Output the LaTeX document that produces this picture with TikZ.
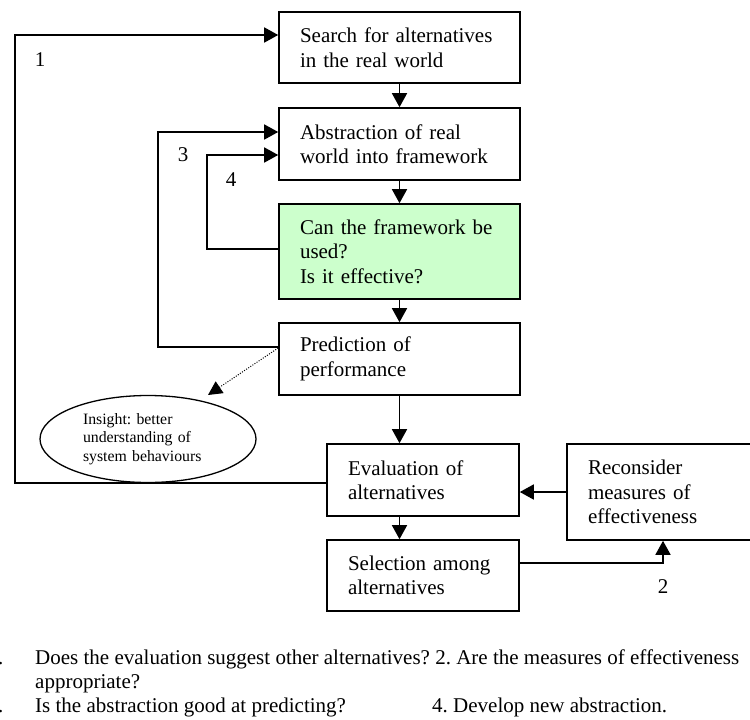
\documentclass[tikz,border=0pt]{standalone}
\usepackage{fontspec}
\setmainfont{Liberation Serif}
\usetikzlibrary{arrows.meta,shapes.geometric,calc}
\definecolor{paleGreen}{RGB}{204,255,204}
\frenchspacing
\begin{document}
\begin{tikzpicture}[x=1pt,y=-1pt,
  every node/.style={font=\fontsize{21}{24.5}\selectfont},
  stepbox/.style={draw,line width=1.6pt,inner xsep=21pt,inner ysep=0pt,align=left},
  flow/.style={line width=1.6pt,-{Triangle[length=14pt,width=15pt]}},
  hint/.style={line width=1pt,dash pattern=on 1pt off 1.5pt,-{Triangle[length=14pt,width=14pt]}},
  num/.style={inner sep=0pt},
]
\useasboundingbox (0,0) rectangle (750,720);

% main chain of steps
\node[stepbox,minimum width=241pt,minimum height=71pt,text width=199pt] (search) at (399.5,47.5)
  {Search for alternatives\\in the real world};
\node[stepbox,minimum width=241pt,minimum height=72pt,text width=199pt] (abstr) at (399.5,144)
  {Abstraction of real\\world into framework};
\node[stepbox,fill=paleGreen,minimum width=241pt,minimum height=95pt,text width=199pt] (frame) at (399.5,251.5)
  {Can the framework be\\used?\\Is it effective?};
\node[stepbox,minimum width=241pt,minimum height=72pt,text width=199pt] (pred) at (399.5,359)
  {Prediction of\\performance};
\node[stepbox,minimum width=192pt,minimum height=72pt,text width=150pt] (eval) at (423,480)
  {Evaluation of\\alternatives};
\node[stepbox,minimum width=192pt,minimum height=71pt,text width=150pt] (sel) at (423,575.5)
  {Selection among\\alternatives};
\node[stepbox,minimum width=185pt,minimum height=96pt,text width=143pt] (recon) at (659.5,492)
  {Reconsider\\measures of\\effectiveness};

% side remark
\node[draw,ellipse,line width=1.3pt,minimum width=216pt,minimum height=87pt,inner sep=0pt,
      text width=130pt,align=left,font=\fontsize{15.8}{18.3}\selectfont] (insight) at (148,439)
  {Insight: better\\understanding of\\system behaviours};
\coordinate (insTip) at (208,395);

% forward flow
\draw[flow] (search.south) -- (abstr.north);
\draw[flow] (abstr.south) -- (frame.north);
\draw[flow] (frame.south) -- (pred.north);
\draw[flow] (pred.south) -- (pred.south |- eval.north);
\draw[flow] (pred.south |- eval.south) -- (pred.south |- sel.north);
\draw[flow] (recon.west) -- (recon.west -| eval.east);
\draw[flow] ([yshift=12.5pt]sel.east) -| ([xshift=3.5pt]recon.south);
\draw[hint] ([yshift=11pt]pred.west) -- (insTip);

% feedback loops
\coordinate (c1) at (15,35);
\coordinate (c3) at (158,132);
\coordinate (c4) at (207,155);
\draw[flow] ([yshift=-3pt]eval.west) -| (c1) -- ([yshift=12.5pt]search.west);
\draw[flow] ([yshift=12pt]pred.west) -| (c3) -- ([yshift=12pt]abstr.west);
\draw[flow] ([yshift=2.5pt]frame.west) -| (c4) -- ([yshift=-11pt]abstr.west);

% loop numbers
\node (n1) at (40,60) {1};
\node (n3) at (183,155) {3};
\node (n4) at (231,180) {4};
\node (n2) at (663,587) {2};

% legend
\node[num,anchor=base east] (k1) at (3.5,664) {1.};
\node[num,anchor=base west] (q1) at (35,664)
  {Does the evaluation suggest other alternatives? 2. Are the measures of effectiveness};
\node[num,anchor=base west] (q1b) at (35,688) {appropriate?};
\node[num,anchor=base east] (k3) at (3.5,712) {3.};
\node[num,anchor=base west] (q3) at (35,712) {Is the abstraction good at predicting?};
\node[num,anchor=base west] (q4) at (432,712) {4. Develop new abstraction.};
\end{tikzpicture}
\end{document}
